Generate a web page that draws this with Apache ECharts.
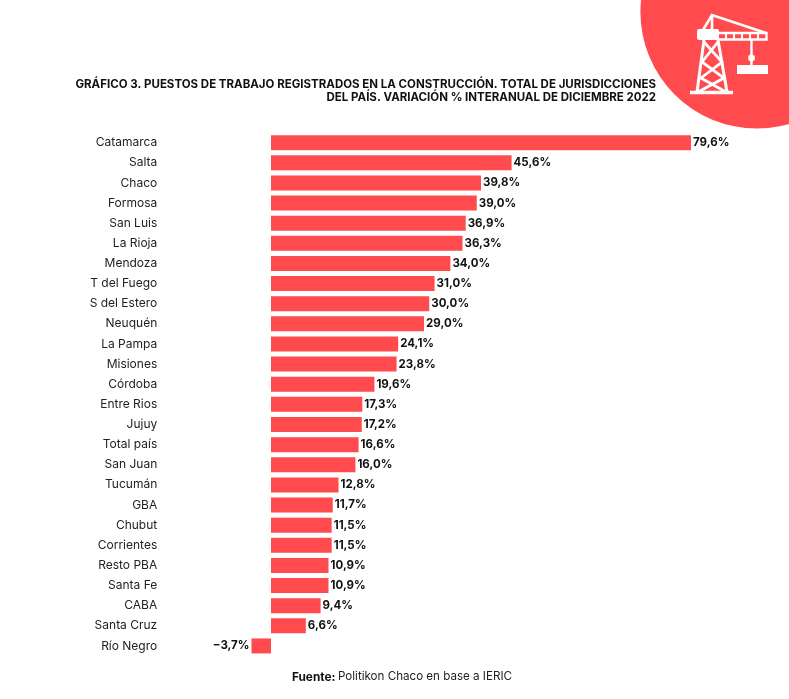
<!DOCTYPE html>
<html><head><meta charset="utf-8">
<style>html,body{margin:0;padding:0;background:#fff}#c{width:789px;height:699px}</style>
<script src="https://cdn.jsdelivr.net/npm/echarts@6/dist/echarts.min.js"></script>
</head><body><div id="c"></div>
<script>
const categories = ['Catamarca','Salta','Chaco','Formosa','San Luis','La Rioja','Mendoza','T del Fuego','S del Estero','Neuquén','La Pampa','Misiones','Córdoba','Entre Rios','Jujuy','Total país','San Juan','Tucumán','GBA','Chubut','Corrientes','Resto PBA','Santa Fe','CABA','Santa Cruz','Río Negro'];
const values = [79.6,45.6,39.8,39.0,36.9,36.3,34.0,31.0,30.0,29.0,24.1,23.8,19.6,17.3,17.2,16.6,16.0,12.8,11.7,11.5,11.5,10.9,10.9,9.4,6.6,-3.7];
const titleLines = ['GRÁFICO 3. PUESTOS DE TRABAJO REGISTRADOS EN LA CONSTRUCCIÓN. TOTAL DE JURISDICCIONES','DEL PAÍS. VARIACIÓN % INTERANUAL DE DICIEMBRE 2022'];
const RED = '#ff4b4d', FONT = 'Inter, "Open Sans", sans-serif';
const fmt = v => (v < 0 ? '−' : '') + Math.abs(v).toFixed(1).replace('.', ',') + '%';
const line = (pts, w) => ({type:'polyline', shape:{points:pts}, style:{stroke:'#fff', fill:null, lineWidth:w||3}, z:11});
const chart = echarts.init(document.getElementById('c'), null, {renderer:'canvas'});
chart.setOption({
  animation:false,
  backgroundColor:'#fff',
  grid:{left:218.24, width:527.6, top:132.6, height:523.4},
  xAxis:{type:'value', min:-10, max:90, show:false},
  yAxis:{type:'category', data:categories, inverse:true,
    axisLine:{show:false, onZero:false}, axisTick:{show:false},
    axisLabel:{color:'#222', fontFamily:FONT, fontSize:12, margin:61}},
  series:[{type:'bar', data:values.map(v => v < 0 ? {value:v, label:{position:'left'}} : v), barWidth:15, itemStyle:{color:RED},
    label:{show:true, position:'right', distance:2, color:'#111', fontFamily:FONT, fontWeight:'bold', fontSize:11.5,
      formatter:p => fmt(p.value)}}],
  graphic:[
    {type:'circle', shape:{cx:757, cy:12, r:116.6}, style:{fill:RED}, z:10},
    // tower
    line([[704,40],[697,92]]), line([[718,40],[727,92]]),
    line([[690,92.5],[733,92.5]],3.4),
    line([[704,42],[722,62],[701,78],[726,92]],2.8), line([[718,42],[702,62],[724,78],[698,92]],2.8),
    // cab and jib
    {type:'rect', shape:{x:697, y:29, width:22, height:11, r:2}, style:{fill:'#fff'}, z:11},
    line([[703,30],[712,15],[766,33]],2.6), line([[712,15],[712,29]],2.6),
    line([[718,33],[766.5,33],[766.5,39.5],[718,39.5]],2.4),
    line([[726,33],[726,39.5]],2), line([[734,33],[734,39.5]],2), line([[742,33],[742,39.5]],2), line([[750,33],[750,39.5]],2), line([[758,33],[758,39.5]],2),
    // hook and load
    line([[751.5,40],[751.5,65]],2.4),
    {type:'circle', shape:{cx:751.5, cy:58, r:3.4}, style:{fill:'#fff'}, z:11},
    {type:'rect', shape:{x:737, y:65, width:31, height:9}, style:{fill:'#fff'}, z:11},
    // texts
    {type:'text', z:12, style:{x:656, y:85, text:titleLines[0], align:'right', verticalAlign:'middle', fill:'#111', font:'bold 11.5px '+FONT}},
    {type:'text', z:12, style:{x:656, y:98, text:titleLines[1], align:'right', verticalAlign:'middle', fill:'#111', font:'bold 11.5px '+FONT}},
    {type:'text', z:12, style:{x:292, y:677, text:'Fuente:', align:'left', verticalAlign:'middle', fill:'#111', font:'bold 11.8px '+FONT}},
    {type:'text', z:12, style:{x:338, y:677, text:'Politikon Chaco en base a IERIC', align:'left', verticalAlign:'middle', fill:'#222', font:'11.6px '+FONT}}
  ]
});
</script></body></html>
